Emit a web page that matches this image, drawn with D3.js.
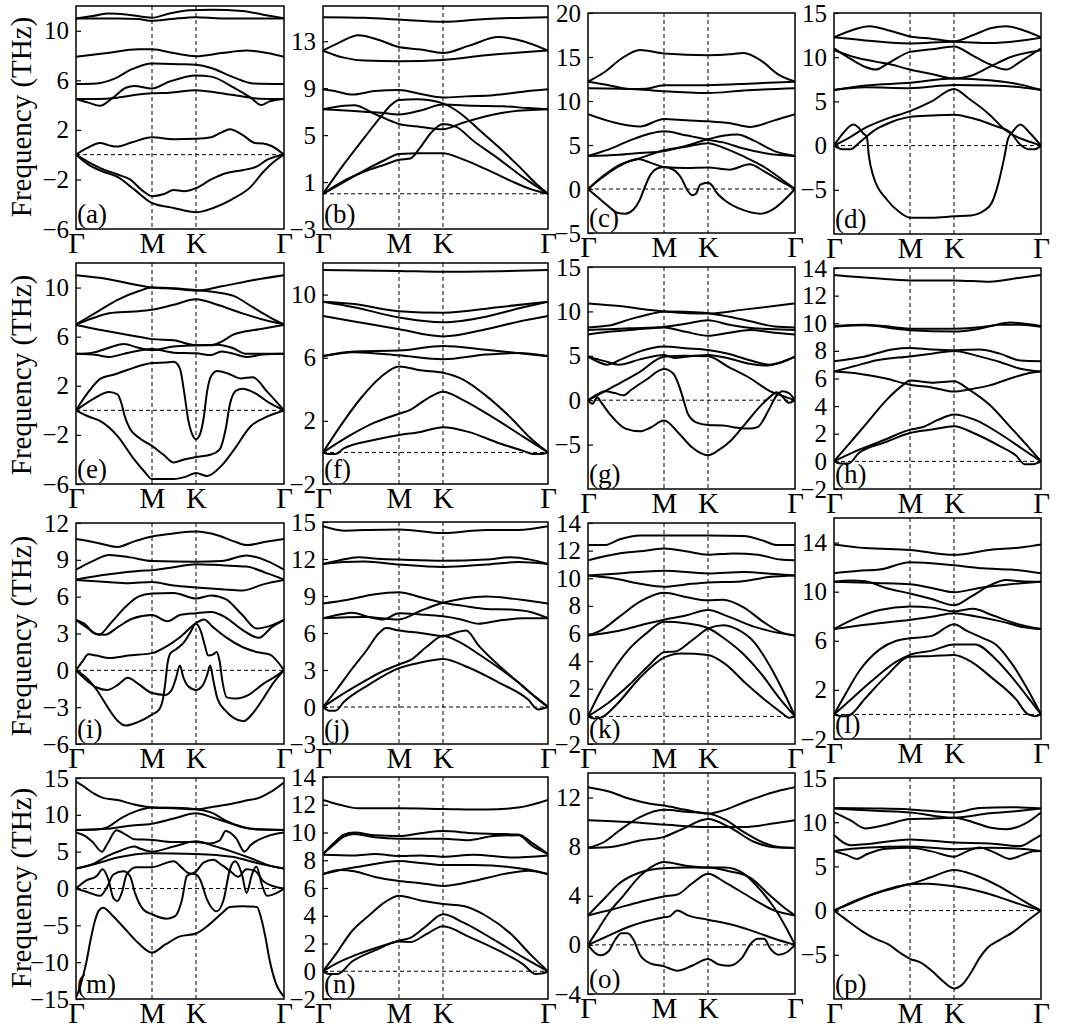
<!DOCTYPE html>
<html>
<head>
<meta charset="utf-8">
<script src="https://cdnjs.cloudflare.com/ajax/libs/d3/7.8.5/d3.min.js"></script>
<style>
  body { margin: 0; background: #fff; }
  svg { display: block; }
  text { font-family: 'Liberation Serif', 'Times New Roman', Times, serif; fill: #000; }
</style>
</head>
<body>
<div id="chart"></div>
<script>
// path stops: Γ, M, K, Γ (percent of path)
const kStops = [0, 36.6, 57.7, 100];
const xTickLabels = ['Γ', 'M', 'K', 'Γ'];
const panelNames = ['(a)','(b)','(c)','(d)','(e)','(f)','(g)','(h)','(i)','(j)','(k)','(l)','(m)','(n)','(o)','(p)'];
const yDomains = [[-6,12],[-3,16],[-5,20],[-10,15],[-6,12],[-2,12],[-10,15],[-2,14],
                  [-6,12],[-3,15],[-2,14],[-2,16],[-15,15],[-2,14],[-4,14],[-10,15]];
const yTickValues = [[-6,-2,2,6,10],[-3,1,5,9,13],[-5,0,5,10,15,20],[-5,0,5,10,15],
                     [-6,-2,2,6,10],[-2,2,6,10],[-5,0,5,10,15],[-2,0,2,4,6,8,10,12,14],
                     [-6,-3,0,3,6,9,12],[-3,0,3,6,9,12,15],[-2,0,2,4,6,8,10,12,14],[-2,2,6,10,14],
                     [-15,-10,-5,0,5,10,15],[-2,0,2,4,6,8,10,12,14],[-4,0,4,8,12],[-5,0,5,10,15]];

// bands: lists of [path position, frequency THz]
const bandsA = [
  [[0,11.0],[8,11.2],[16,11.4],[25,11.3],[36.6,11.05],[45,11.4],[55,11.65],[65,11.7],[80,11.6],[90,11.3],[100,11.0]],
  [[0,11.0],[20,11.0],[30,10.95],[36.6,10.8],[46,10.95],[57.7,11.1],[70,11.0],[100,11.0]],
  [[0,7.9],[15,8.2],[30,8.5],[36.6,8.5],[47,8.2],[57.7,7.95],[70,8.2],[82,8.4],[92,8.2],[100,7.9]],
  [[0,5.7],[10,5.75],[18,6.1],[27,6.9],[36.6,7.35],[50,7.3],[57.7,7.25],[65,7.0],[75,6.3],[85,5.75],[100,5.7]],
  [[0,4.5],[10,4.5],[20,4.6],[30,4.85],[36.6,4.95],[45,5.0],[57.7,5.2],[68,5.0],[80,4.7],[88,4.52],[100,4.5]],
  [[0,4.5],[6,4.2],[11.6,3.95],[17,4.5],[24,5.4],[28,5.55],[36.6,5.35],[45,5.9],[57.7,6.4],[65,6.3],[75,5.5],[84,4.6],[89,4.0],[93,4.3],[100,4.5]],
  [[0,0],[5,0.5],[11.6,0.95],[16,0.75],[19.6,0.65],[27,1.0],[36.6,1.4],[47,1.25],[57.7,1.28],[65,1.4],[70,1.8],[74,2.05],[80,1.6],[86,0.95],[90,0.9],[94,0.7],[100,0]],
  [[0,0],[6,-0.6],[12,-1.1],[20,-1.6],[26,-2.0],[32,-2.9],[36.6,-3.35],[42,-3.2],[47,-2.85],[52,-2.95],[57.7,-2.7],[65,-2.0],[72,-1.5],[80,-1.25],[87,-0.95],[92,-0.4],[100,0]],
  [[0,0],[6,-0.8],[12,-1.3],[20,-1.8],[28,-2.8],[36.6,-3.9],[47,-4.3],[57.7,-4.65],[66,-4.3],[75,-3.6],[84,-2.6],[90,-1.4],[95,-0.6],[100,0]]
];
const bandsB = [
  [[0,15.05],[20,15.0],[36.6,14.85],[57.7,14.65],[75,14.9],[100,15.05]],
  [[0,12.2],[8,12.9],[17,13.5],[27,13.1],[36.6,12.5],[47,12.3],[57.7,12.0],[68,12.6],[80,13.35],[90,13.0],[100,12.2]],
  [[0,12.2],[10,11.6],[20,11.35],[36.6,11.3],[57.7,11.4],[75,11.8],[100,12.2]],
  [[0,8.9],[7,8.7],[14,8.45],[25,8.75],[36.6,8.85],[47,8.5],[57.7,8.2],[67,8.3],[78,8.4],[90,8.7],[100,8.9]],
  [[0,7.2],[15,7.05],[28,6.9],[36.6,6.75],[47,7.1],[57.7,7.6],[70,7.5],[82,7.45],[92,7.3],[100,7.2]],
  [[0,7.2],[10,7.5],[15,7.55],[25,6.8],[36.6,5.95],[47,5.7],[57.7,5.5],[65,6.0],[75,6.6],[85,7.0],[100,7.2]],
  [[0,0],[10,2.5],[20,4.8],[28,6.6],[33,7.6],[36.6,8.0],[45,8.05],[57.7,7.7],[65,6.8],[72,5.5],[80,4.0],[88,2.4],[95,0.9],[100,0]],
  [[0,0],[10,1.1],[20,1.9],[30,2.5],[36.6,2.9],[42,3.0],[47,4.0],[52,5.2],[57.7,5.95],[63,5.7],[70,4.5],[80,3.0],[90,1.4],[100,0]],
  [[0,0],[10,1.0],[20,2.0],[30,2.9],[36.6,3.4],[47,3.45],[57.7,3.45],[65,3.0],[75,2.1],[85,1.1],[93,0.4],[100,0]]
];
const bandsC = [
  [[0,12.2],[8,13.3],[16,14.8],[25,15.8],[36.6,15.4],[57.7,15.2],[68,15.3],[75,15.45],[84,14.5],[92,13.0],[100,12.2]],
  [[0,12.2],[10,11.8],[20,11.35],[28,11.4],[36.6,11.8],[57.7,11.8],[80,12.0],[100,12.2]],
  [[0,11.45],[15,11.4],[25,11.3],[36.6,11.1],[57.7,10.9],[75,11.2],[100,11.45]],
  [[0,8.5],[12,7.6],[25,7.1],[36.6,7.95],[47,7.8],[57.7,7.7],[68,7.5],[78,7.05],[90,7.8],[100,8.5]],
  [[0,3.76],[10,4.5],[20,5.5],[30,6.3],[36.6,6.55],[47,6.1],[57.7,5.6],[65,5.3],[75,4.6],[87,4.0],[100,3.76]],
  [[0,3.76],[15,3.9],[25,4.1],[36.6,4.3],[47,4.9],[57.7,5.65],[65,6.05],[72,6.2],[80,5.5],[90,4.3],[100,3.76]],
  [[0,0],[8,1.6],[15,2.7],[25,3.5],[36.6,4.4],[47,4.8],[57.7,5.2],[65,4.7],[75,3.7],[85,2.5],[93,1.2],[100,0]],
  [[0,0],[8,1.5],[15,2.6],[24,3.4],[30,3.0],[36.6,2.5],[47,2.4],[57.7,2.45],[68,2.2],[78,2.8],[85,2.0],[93,0.9],[100,0]],
  [[0,0],[5,-1.0],[10,-2.0],[14,-2.7],[18,-2.8],[22,-2.3],[25,-1.2],[27,0],[30,1.6],[33,2.3],[36.6,2.5],[41,2.2],[45,1.2],[47.5,0],[50,-0.7],[52,-0.5],[54,0.5],[57.7,0.7],[60,0.3],[61.5,-0.3],[66,-1.3],[75,-2.4],[83,-2.8],[90,-2.2],[95,-1.2],[100,0]]
];
const bandsD = [
  [[0,12.25],[8,13.0],[17,13.5],[27,13.0],[36.6,12.35],[47,12.1],[57.7,11.8],[68,12.6],[76,13.3],[83,13.5],[92,13.0],[100,12.25]],
  [[0,12.25],[15,11.9],[36.6,11.55],[57.7,11.75],[75,11.6],[100,12.2]],
  [[0,11.0],[8,9.8],[15,8.9],[20,8.6],[26,9.3],[36.6,10.6],[47,10.9],[57.7,11.2],[66,10.3],[75,9.2],[83,8.6],[90,9.5],[100,11.0]],
  [[0,10.8],[10,10.0],[20,9.5],[27,9.2],[36.6,8.6],[47,8.1],[57.7,7.6],[66,7.9],[75,8.9],[85,10.0],[100,10.8]],
  [[0,6.3],[15,6.8],[36.6,7.1],[57.7,7.6],[75,7.4],[90,6.9],[100,6.3]],
  [[0,6.3],[15,6.6],[36.6,6.5],[57.7,6.85],[75,6.8],[90,6.6],[100,6.3]],
  [[0,0],[8,1.0],[15,2.0],[25,3.0],[36.6,3.9],[47,5.0],[57.7,6.4],[65,5.3],[75,3.5],[83,1.7],[90,0.8],[95,0.4],[100,0]],
  [[0,0],[4,-0.4],[8,-0.4],[12,0.3],[20,1.8],[28,2.7],[36.6,3.25],[47,3.4],[57.7,3.5],[68,3.0],[78,2.2],[85,1.5],[90,0.1],[94,-0.4],[97,-0.4],[100,0]],
  [[0,0],[4,1.3],[9.3,2.4],[12,2.0],[14,1.4],[15.8,1.0],[16.8,-1.2],[19,-3.5],[25.4,-6.1],[32,-7.6],[36.6,-8.15],[47,-8.15],[57.7,-8.0],[66,-7.9],[72,-7.4],[76,-6.5],[79,-4.5],[82,-1.5],[84,0.8],[86,1.5],[89.9,2.4],[94.7,1.4],[100,0]]
];
const bandsE = [
  [[0,11.0],[15,10.7],[28,10.25],[36.6,10.0],[47,9.9],[57.7,9.75],[70,10.1],[85,10.6],[100,11.0]],
  [[0,7.0],[10,8.0],[20,9.0],[30,9.7],[36.6,10.0],[47,9.95],[57.7,9.8],[68,9.6],[76,9.3],[85,8.4],[93,7.6],[100,7.0]],
  [[0,7.0],[8,7.5],[16,7.9],[28,8.05],[36.6,8.2],[47,8.6],[57.7,9.05],[68,8.6],[80,7.9],[92,7.3],[100,7.0]],
  [[0,6.95],[10,6.6],[20,6.3],[30,6.0],[36.6,5.8],[47,5.7],[57.7,5.3],[65,5.3],[70,5.6],[76,6.2],[88,6.6],[100,6.95]],
  [[0,4.6],[8,4.7],[16,5.1],[23,5.4],[30,5.1],[36.6,4.9],[47,5.2],[57.7,5.3],[68,5.35],[75,5.1],[82,4.6],[90,4.6],[100,4.6]],
  [[0,4.6],[10,4.5],[16,4.35],[23,4.6],[30,4.85],[36.6,5.0],[47,4.7],[57.7,4.65],[65,4.5],[70,4.8],[76,4.6],[82,4.35],[90,4.55],[100,4.6]],
  [[0,0],[6,1.5],[12,2.6],[18,2.9],[25,3.3],[32,3.7],[36.6,3.85],[43,3.9],[47,3.95],[50,3.4],[52,1.5],[54,-0.8],[56,-2.0],[57.7,-2.35],[59.5,-2.0],[61.5,-0.5],[63,1.5],[65,2.8],[68,3.2],[73,3.0],[79,2.6],[85,2.7],[92,1.5],[100,0]],
  [[0,0],[8,0.9],[16,1.5],[20,1.3],[22,0.5],[23.5,-0.5],[26,-1.5],[30,-2.2],[36.6,-2.9],[42,-3.6],[47,-4.25],[52,-4.0],[57.7,-3.8],[65,-3.6],[69,-3.2],[72,-1.5],[74,0.5],[77,1.6],[80,1.75],[86,1.4],[93,0.6],[100,0]],
  [[0,0],[6,-0.5],[12,-0.9],[20,-2.1],[28,-4.0],[33,-5.0],[36.6,-5.6],[47,-5.6],[53,-5.4],[57.7,-5.1],[63,-5.35],[70,-4.5],[76,-3.2],[84,-1.3],[92,-0.5],[100,0]]
];
const bandsF = [
  [[0,11.55],[36.6,11.5],[57.7,11.45],[100,11.55]],
  [[0,9.55],[15,9.4],[36.6,8.95],[57.7,8.85],[80,9.2],[100,9.55]],
  [[0,9.55],[15,9.2],[36.6,8.55],[57.7,8.25],[75,8.6],[90,9.2],[100,9.55]],
  [[0,8.65],[15,8.3],[36.6,7.8],[57.7,7.35],[75,7.8],[90,8.35],[100,8.65]],
  [[0,6.1],[15,6.4],[36.6,6.45],[57.7,6.75],[75,6.5],[100,6.1]],
  [[0,6.1],[15,6.35],[36.6,6.15],[57.7,5.9],[75,6.2],[88,6.3],[100,6.1]],
  [[0,0],[8,1.6],[18,3.4],[28,4.8],[36.6,5.45],[47,5.2],[57.7,5.05],[66,4.6],[75,3.6],[85,2.2],[93,0.9],[100,0]],
  [[0,0],[12,1.0],[25,1.9],[36.6,2.45],[42,2.7],[50,3.4],[57.7,3.85],[66,3.3],[78,2.2],[90,1.0],[100,0]],
  [[0,0],[3,-0.1],[6,-0.1],[10,0.25],[25,0.8],[36.6,1.1],[47,1.3],[57.7,1.6],[68,1.3],[80,0.6],[90,0.1],[94,-0.1],[97,-0.1],[100,0]]
];
const bandsG = [
  [[0,10.9],[15,10.6],[30,10.15],[36.6,10.0],[57.7,9.75],[75,10.2],[100,10.9]],
  [[0,8.2],[10,8.4],[20,9.1],[30,9.7],[36.6,10.0],[47,9.95],[57.7,9.8],[68,9.4],[80,8.8],[90,8.3],[100,8.2]],
  [[0,7.9],[10,8.0],[20,8.1],[36.6,8.25],[47,8.6],[57.7,9.0],[68,8.5],[80,8.1],[90,8.0],[100,7.9]],
  [[0,7.4],[10,7.7],[20,7.9],[36.6,8.2],[47,7.7],[57.7,7.25],[68,7.6],[78,7.9],[90,7.6],[100,7.4]],
  [[0,4.9],[5,4.3],[9,4.0],[16,4.6],[25,5.5],[36.6,6.05],[47,5.85],[57.7,5.65],[68,5.2],[78,4.5],[88,4.0],[94,4.3],[100,4.9]],
  [[0,4.9],[8,4.4],[15,4.0],[25,4.6],[36.6,5.1],[42,4.75],[47,4.9],[57.7,5.1],[68,4.7],[78,4.1],[86,3.9],[92,4.2],[100,4.9]],
  [[0,0],[8,1.0],[16,2.0],[25,3.2],[36.6,4.9],[47,5.0],[57.7,4.95],[68,3.7],[78,2.5],[88,1.0],[95,0.4],[100,0]],
  [[0,0],[4,0.6],[8,1.0],[13,0.8],[17,0.55],[21,1.2],[28,2.3],[36.6,3.5],[41,3.0],[44,1.5],[46,0],[48,-1.5],[52,-2.5],[57.7,-2.8],[65,-2.85],[72,-3.1],[78,-3.2],[82,-3.0],[87,-1.2],[91,0.5],[94,1.0],[97,0.8],[100,0]],
  [[0,0],[2,-0.4],[4.5,0.3],[6.5,-0.3],[11,-1.7],[18,-3.2],[25,-3.5],[30,-3.1],[36.6,-2.3],[44,-3.8],[50,-5.3],[57.7,-6.2],[63,-5.6],[69,-4.5],[76,-2.6],[83,-0.7],[88,0.4],[91,0.9],[94,0.4],[97,-0.3],[100,0]]
];
const bandsH = [
  [[0,13.5],[20,13.25],[36.6,13.1],[57.7,13.1],[75,13.0],[90,13.3],[100,13.5]],
  [[0,9.8],[15,9.9],[30,9.7],[36.6,9.6],[57.7,9.6],[75,9.8],[85,10.05],[100,9.8]],
  [[0,9.75],[15,9.85],[30,9.6],[36.6,9.5],[57.7,9.4],[70,9.6],[80,9.9],[90,9.9],[100,9.75]],
  [[0,7.25],[15,7.6],[28,8.1],[36.6,8.2],[47,8.1],[57.7,8.05],[70,8.1],[80,7.8],[90,7.3],[100,7.25]],
  [[0,6.5],[10,6.9],[20,7.3],[36.6,7.6],[47,7.8],[57.7,8.0],[70,7.6],[80,7.2],[90,6.7],[100,6.5]],
  [[0,6.5],[12,6.35],[25,6.0],[36.6,5.55],[47,5.35],[57.7,5.05],[65,5.2],[75,5.5],[85,6.0],[93,6.35],[100,6.5]],
  [[0,0],[8,1.4],[16,2.8],[25,4.4],[33,5.5],[36.6,5.85],[47,5.7],[57.7,5.8],[65,5.2],[75,4.1],[85,2.5],[93,1.2],[100,0]],
  [[0,0],[10,0.7],[25,1.6],[36.6,2.3],[42,2.45],[50,3.0],[57.7,3.4],[68,3.0],[80,2.0],[90,1.0],[100,0]],
  [[0,0],[3,-0.15],[7,-0.15],[12,0.6],[25,1.4],[36.6,2.05],[47,2.3],[57.7,2.55],[68,2.0],[80,1.1],[88,0.4],[92,-0.2],[96,-0.2],[100,0]]
];
const bandsI = [
  [[0,10.7],[10,10.4],[20,10.05],[28,10.5],[36.6,10.9],[47,11.15],[57.7,11.3],[68,11.0],[76,10.5],[82,10.2],[92,10.5],[100,10.7]],
  [[0,8.2],[8,8.9],[16,9.4],[26,9.2],[36.6,8.9],[57.7,8.85],[70,8.9],[82,9.35],[92,8.9],[100,8.2]],
  [[0,7.4],[15,7.8],[30,8.1],[36.6,8.15],[47,8.4],[57.7,8.65],[70,8.55],[82,8.45],[92,7.9],[100,7.4]],
  [[0,7.35],[15,7.2],[25,7.1],[36.6,7.2],[47,6.9],[57.7,6.75],[70,6.6],[80,6.5],[90,7.0],[100,7.35]],
  [[0,4.1],[6,3.4],[11,2.9],[17,3.9],[24,5.2],[30,6.0],[36.6,6.25],[47,6.3],[57.7,5.85],[65,6.1],[72,5.8],[80,4.5],[87,3.4],[93,3.6],[100,4.1]],
  [[0,4.1],[4,3.8],[9,3.0],[14,2.9],[20,3.5],[27,4.2],[36.6,4.5],[44,4.0],[50,4.5],[57.7,4.65],[65,4.75],[72,4.3],[80,3.3],[88,2.65],[94,3.5],[100,4.1]],
  [[0,0],[3,0.7],[6,1.3],[10,1.2],[16,1.0],[25,1.2],[36.6,1.4],[44,2.0],[50,2.7],[57.7,3.85],[61.5,4.15],[66,3.5],[72,2.7],[80,1.9],[88,1.45],[93,1.3],[100,0]],
  [[0,0],[5,-0.6],[10,-1.6],[16,-3.2],[20,-4.1],[24,-4.5],[30,-4.2],[36.6,-3.6],[40,-3.2],[42,-2.2],[43,-1.0],[44,0.5],[45.5,1.4],[48,1.7],[52,2.3],[55,3.1],[57.7,3.8],[60,3.2],[62,2.0],[63.5,1.2],[66,1.3],[67.5,1.5],[69,0.8],[70.5,-1.0],[72.5,-2.2],[77,-2.3],[83,-2.0],[90,-1.1],[95,-0.6],[100,0]],
  [[0,0],[5,-0.8],[10,-1.4],[15,-1.6],[20,-1.2],[25,-0.6],[30,-1.1],[36.6,-1.85],[43,-2.0],[46,-1.6],[48,-0.7],[50,0.4],[51.5,-0.5],[54,-1.3],[57.7,-1.6],[61,-1.2],[63,-0.4],[64.5,0.4],[66,-0.8],[68,-2.3],[72,-3.3],[76,-3.9],[80.5,-4.15],[85,-3.5],[90,-2.3],[95,-1.0],[100,0]]
];
const bandsJ = [
  [[0,14.65],[10,14.3],[20,14.35],[36.6,14.4],[57.7,14.1],[75,14.35],[88,14.35],[100,14.65]],
  [[0,11.6],[8,11.9],[17,12.15],[28,12.0],[36.6,11.95],[57.7,11.85],[75,11.95],[85,12.15],[93,11.95],[100,11.6]],
  [[0,11.6],[10,11.75],[20,11.8],[36.6,11.55],[57.7,11.35],[75,11.55],[88,11.75],[100,11.6]],
  [[0,8.4],[12,8.7],[25,9.15],[36.6,9.3],[47,8.9],[57.7,8.45],[66,8.2],[75,7.95],[85,7.9],[93,7.7],[100,7.2]],
  [[0,7.2],[20,7.3],[36.6,7.1],[47,7.8],[57.7,8.45],[66,8.8],[75,8.95],[85,8.8],[93,8.6],[100,8.4]],
  [[0,7.2],[8,7.5],[14,7.65],[22,7.3],[29,7.1],[36.6,7.6],[47,7.5],[57.7,7.35],[65,7.1],[72,6.75],[80,7.0],[90,7.2],[100,7.2]],
  [[0,0],[7,1.5],[14,3.1],[21,4.6],[27,6.0],[30.5,6.4],[36.6,6.2],[47,6.0],[57.7,5.75],[64,6.1],[67,6.2],[72,5.0],[80,3.4],[88,2.0],[95,0.8],[100,0]],
  [[0,0],[10,1.1],[20,2.1],[30,3.0],[36.6,3.45],[42,3.8],[50,4.9],[57.7,5.75],[64,5.3],[72,4.3],[80,3.2],[88,2.0],[95,0.8],[100,0]],
  [[0,0],[3,-0.3],[6,-0.3],[10,0.4],[22,1.8],[36.6,3.15],[47,3.6],[57.7,3.9],[68,3.2],[80,2.0],[92,0.6],[96,-0.2],[100,0]]
];
const bandsK = [
  [[0,12.4],[8,12.4],[15,12.8],[25,13.1],[36.6,13.1],[57.7,13.1],[75,13.05],[85,12.7],[91,12.4],[100,12.4]],
  [[0,11.3],[8,11.6],[15,11.8],[25,11.95],[36.6,12.15],[47,11.95],[57.7,11.7],[70,11.8],[82,11.7],[93,11.35],[100,11.3]],
  [[0,10.2],[15,10.35],[36.6,10.55],[57.7,10.35],[75,10.45],[90,10.3],[100,10.2]],
  [[0,10.2],[12,10.0],[25,9.6],[36.6,9.38],[47,9.55],[57.7,9.7],[72,9.75],[88,10.1],[100,10.2]],
  [[0,5.85],[6,6.2],[15,7.2],[25,8.3],[36.6,8.95],[47,8.65],[57.7,8.4],[65,8.45],[75,7.9],[85,6.8],[93,6.1],[100,5.85]],
  [[0,5.85],[15,6.2],[28,6.7],[36.6,7.0],[47,7.3],[57.7,7.7],[68,7.2],[80,6.5],[90,6.1],[100,5.85]],
  [[0,0],[6,1.8],[12,3.3],[20,4.9],[28,6.0],[36.6,6.85],[47,6.75],[57.7,6.4],[66,5.6],[75,4.5],[84,3.0],[92,1.4],[100,0]],
  [[0,0],[10,1.0],[20,2.3],[30,3.8],[36.6,4.65],[42,4.7],[50,5.5],[57.7,6.35],[65,6.6],[72,6.3],[80,5.4],[88,3.6],[95,1.6],[100,0]],
  [[0,0],[3,-0.15],[6,-0.1],[14,0.9],[25,2.8],[36.6,4.25],[45,4.55],[57.7,4.45],[66,3.8],[76,2.4],[87,1.0],[94,0.2],[97,-0.1],[100,0]]
];
const bandsL = [
  [[0,13.85],[15,13.55],[36.6,13.4],[57.7,13.0],[75,13.4],[90,13.6],[100,13.85]],
  [[0,11.5],[12,11.7],[22,11.8],[36.6,12.4],[57.7,12.15],[72,11.9],[85,11.8],[100,11.5]],
  [[0,10.8],[8,10.9],[15,10.85],[25,10.3],[36.6,9.85],[47,9.4],[57.7,8.9],[66,9.6],[75,10.5],[83,10.95],[90,10.85],[100,10.8]],
  [[0,10.8],[20,10.7],[36.6,10.6],[47,10.3],[57.7,9.95],[70,10.3],[85,10.6],[100,10.8]],
  [[0,6.95],[10,7.8],[22,8.5],[36.6,8.8],[47,8.7],[57.7,8.4],[67,8.6],[76,8.1],[88,7.4],[100,6.95]],
  [[0,6.95],[15,7.3],[28,7.55],[36.6,7.7],[47,7.95],[57.7,8.25],[68,8.0],[80,7.6],[92,7.1],[100,6.95]],
  [[0,0],[5,1.5],[12,3.5],[22,5.3],[30,6.0],[36.6,6.2],[47,6.4],[57.7,7.35],[64,6.8],[72,6.2],[78,5.7],[86,4.1],[93,2.2],[100,0]],
  [[0,0],[8,1.2],[18,2.7],[30,4.3],[36.6,4.85],[47,5.2],[57.7,5.7],[68,5.7],[78,4.5],[88,2.6],[95,1.1],[100,0]],
  [[0,0],[4,-0.15],[7,-0.1],[15,1.3],[25,3.1],[36.6,4.7],[47,4.75],[57.7,4.85],[66,4.3],[76,3.0],[88,1.2],[93,0.1],[97,-0.15],[100,0]]
];
const bandsM = [
  [[0,14.5],[5,13.6],[8.5,12.9],[13,12.3],[20,12.0],[28,11.4],[36.6,11.0],[47,10.9],[57.7,10.75],[66,11.1],[75,11.5],[83,12.0],[88,12.3],[93,13.0],[100,14.4]],
  [[0,7.95],[10,8.0],[15,8.3],[22,9.6],[29,10.5],[36.6,11.0],[47,10.95],[57.7,10.75],[66,10.2],[72,9.2],[80,8.3],[88,8.0],[100,7.95]],
  [[0,7.95],[15,8.1],[25,8.5],[36.6,8.8],[47,9.5],[57.7,10.2],[66,9.6],[75,8.8],[85,8.1],[100,7.95]],
  [[0,7.6],[5,7.0],[8,6.3],[12.5,5.0],[15,6.0],[19.5,7.9],[24,7.3],[28,6.7],[36.6,6.6],[47,6.3],[57.7,6.3],[64,6.1],[69,6.5],[72,7.8],[77,6.8],[81,5.0],[84,5.9],[92,7.1],[100,7.6]],
  [[0,2.7],[8,3.3],[15,4.4],[22,5.2],[28,5.7],[31,5.4],[36.6,5.0],[47,5.7],[57.7,6.4],[66,5.8],[75,5.0],[85,4.0],[93,3.1],[100,2.7]],
  [[0,2.7],[10,3.4],[20,4.2],[36.6,4.8],[57.7,4.7],[75,4.3],[88,3.4],[100,2.7]],
  [[0,0],[5,1.1],[10,1.7],[12.8,2.6],[15.6,1.2],[18,-1.3],[20,-1.7],[22,-0.6],[24.4,1.9],[29,2.9],[36.6,2.9],[47,3.7],[51,2.8],[54,2.1],[57.7,1.9],[59.7,1.2],[63,-1.5],[67.7,-3.1],[71,-1.5],[74,2.6],[76.5,3.7],[79.8,1.9],[82,-0.6],[84.6,1.9],[86.7,3.0],[89.4,0.5],[91.8,-1.0],[96.6,-0.6],[100,0]],
  [[0,0],[6.7,-0.6],[11.6,-1.0],[14.8,0.1],[18,1.9],[22.8,2.35],[26,1.7],[28.4,-0.6],[32.4,-2.85],[36.6,-3.5],[43.7,-4.1],[47.7,-3.75],[51,-1.5],[53.3,1.7],[57.7,2.3],[61.3,3.5],[66,3.9],[70,3.2],[74,2.4],[78,1.6],[82,2.6],[86,2.4],[90,1.0],[95,0.3],[100,0]],
  [[0,-14.8],[2,-13.3],[5,-10],[7,-7.0],[9,-4.5],[11,-3.0],[13,-2.6],[18,-3.8],[24,-5.6],[30,-7.4],[36.6,-8.7],[43,-7.6],[50,-6.5],[57.7,-6.1],[64,-4.9],[70,-3.4],[74,-2.5],[80,-2.4],[87,-2.5],[89,-4.0],[91,-6.5],[93,-9.6],[96,-12.8],[100,-14.7]]
];
const bandsN = [
  [[0,12.35],[8,12.0],[17,11.75],[36.6,11.75],[57.7,11.7],[75,11.65],[88,11.8],[100,12.35]],
  [[0,8.45],[5,9.2],[10,9.85],[15,10.0],[25,9.8],[36.6,9.75],[47,9.95],[57.7,10.1],[70,9.95],[80,9.9],[88,9.85],[94,9.2],[100,8.45]],
  [[0,8.45],[5,9.1],[10,9.7],[15,9.9],[25,9.65],[36.6,9.55],[47,9.55],[57.7,9.55],[68,9.45],[78,9.75],[88,9.8],[94,9.0],[100,8.45]],
  [[0,8.4],[15,8.35],[25,8.45],[36.6,8.3],[47,8.35],[57.7,8.25],[70,8.4],[85,8.2],[100,8.35]],
  [[0,7.0],[10,7.35],[20,7.6],[36.6,7.95],[47,7.8],[57.7,7.65],[70,7.65],[85,7.5],[93,7.3],[100,7.0]],
  [[0,7.0],[8,7.3],[15,7.2],[25,6.8],[36.6,6.5],[47,6.35],[57.7,6.15],[70,6.5],[82,7.0],[92,7.25],[100,7.0]],
  [[0,0],[6,1.2],[14,2.9],[22,4.0],[30,5.0],[36.6,5.45],[47,5.1],[57.7,4.85],[66,4.7],[75,4.0],[85,2.7],[93,1.2],[100,0]],
  [[0,0],[7,0.6],[18,1.3],[30,1.9],[36.6,2.2],[42,2.4],[50,3.3],[57.7,4.1],[66,3.5],[78,2.3],[90,1.0],[100,0]],
  [[0,0],[3,-0.2],[7,-0.2],[14,0.7],[25,1.5],[36.6,2.15],[42,2.1],[50,2.7],[57.7,3.25],[68,2.5],[80,1.5],[90,0.5],[95,-0.2],[98,-0.15],[100,0]]
];
const bandsO = [
  [[0,12.85],[10,12.5],[20,11.9],[30,11.5],[36.6,11.35],[47,11.0],[57.7,10.7],[66,11.0],[75,11.6],[85,12.2],[93,12.6],[100,12.85]],
  [[0,7.9],[8,8.4],[15,9.3],[25,10.4],[36.6,11.0],[47,10.85],[57.7,10.7],[66,10.2],[75,9.2],[85,8.3],[93,7.95],[100,7.9]],
  [[0,10.15],[20,10.0],[36.6,9.8],[57.7,9.6],[75,9.6],[90,9.9],[100,10.15]],
  [[0,7.9],[12,8.0],[25,8.5],[36.6,8.8],[45,9.4],[57.7,10.25],[68,9.6],[80,8.4],[90,7.95],[100,7.9]],
  [[0,2.4],[8,3.8],[15,5.0],[25,5.9],[36.6,6.25],[47,6.3],[57.7,6.3],[68,6.0],[78,5.5],[88,4.0],[95,3.0],[100,2.4]],
  [[0,2.4],[12,2.9],[25,3.5],[36.6,3.95],[43,4.1],[50,5.0],[57.7,5.8],[66,5.1],[78,3.9],[90,2.8],[100,2.4]],
  [[0,0],[5,1.3],[10,2.6],[17,4.0],[25,5.6],[31,6.4],[36.6,6.75],[47,6.45],[57.7,6.3],[66,6.3],[75,5.8],[83,4.5],[90,3.0],[95,1.6],[100,0]],
  [[0,0],[8,0.6],[20,1.5],[30,2.0],[36.6,2.25],[39,2.3],[43,2.8],[48,2.4],[57.7,2.05],[68,1.7],[80,1.1],[90,0.5],[100,0]],
  [[0,0],[3,-0.6],[6,-0.85],[10,-0.5],[13,0.4],[16,0.95],[19,0.95],[22,0.4],[25,-0.8],[30,-1.5],[36.6,-1.75],[43,-2.1],[50,-1.7],[57.7,-1.15],[63,-1.6],[68,-1.7],[74,-1.1],[79,0.2],[82,0.5],[85,0.5],[88,-0.3],[92,-0.8],[96,-0.6],[100,0]]
];
const bandsP = [
  [[0,11.6],[20,11.55],[36.6,11.45],[57.7,11.1],[70,11.6],[85,11.7],[100,11.55]],
  [[0,11.55],[20,11.3],[36.6,11.1],[57.7,10.5],[75,11.0],[90,11.3],[100,11.55]],
  [[0,11.1],[8,10.2],[15,9.3],[25,9.7],[36.6,10.35],[47,10.4],[57.7,10.5],[67,10.0],[75,9.4],[83,9.2],[92,9.8],[100,11.1]],
  [[0,8.55],[8,7.4],[15,7.5],[36.6,8.05],[57.7,7.7],[75,7.6],[90,7.3],[96,8.0],[100,8.55]],
  [[0,6.75],[15,7.1],[36.6,7.25],[57.7,6.95],[75,7.1],[90,7.0],[100,6.75]],
  [[0,6.75],[6,6.3],[11,5.85],[16,6.4],[25,7.0],[36.6,7.1],[47,6.7],[57.7,6.1],[64,6.7],[70,7.15],[78,6.5],[85,5.85],[91,6.3],[96,6.7],[100,6.75]],
  [[0,0],[8,0.9],[18,1.8],[30,2.7],[36.6,3.0],[47,3.8],[57.7,4.6],[68,4.0],[80,2.7],[90,1.3],[96,0.5],[100,0]],
  [[0,0],[8,0.8],[18,1.8],[30,2.6],[36.6,3.0],[45,3.05],[57.7,2.75],[68,2.3],[80,1.5],[90,0.7],[100,0]],
  [[0,0],[4,-0.7],[8,-1.4],[14,-2.4],[20,-3.2],[26,-3.8],[32,-4.8],[36.6,-5.45],[42,-5.9],[47,-6.8],[52,-7.9],[57.7,-8.8],[62,-8.3],[66,-7.0],[70,-5.4],[74,-4.2],[80,-3.3],[86,-2.5],[92,-1.4],[100,0]]
];
const allBands = [bandsA, bandsB, bandsC, bandsD, bandsE, bandsF, bandsG, bandsH,
                  bandsI, bandsJ, bandsK, bandsL, bandsM, bandsN, bandsO, bandsP];

// layout
const W = 1071, H = 1032;
const colLeft = [76, 323, 588, 834];
const colWidth = [208, 225, 207, 207];
const panelTop = [6, 6, 13, 13, 263, 263, 267, 268, 523, 522, 523, 518, 778, 777, 773, 778];
const panelBottom = [229, 229, 233, 234, 484, 484, 489, 489, 744, 744, 744, 739, 999, 999, 994, 999];
const rowLabelY = [117, 375, 636, 888];
const FONT = "'Liberation Serif', 'Times New Roman', Times, serif";

const svg = d3.select('#chart').append('svg')
  .attr('width', W).attr('height', H)
  .attr('font-family', FONT);
svg.append('rect').attr('width', W).attr('height', H).attr('fill', '#fff');

const defs = svg.append('defs');

allBands.forEach(function (bands, i) {
  const col = i % 4;
  const L = colLeft[col], R = L + colWidth[col];
  const top = panelTop[i], bottom = panelBottom[i];

  const x = d3.scaleLinear().domain(kStops).range([L, L + 76, L + 120, R]);
  const y = d3.scaleLinear().domain(yDomains[i]).range([bottom, top]);

  const g = svg.append('g').attr('class', 'panel');

  defs.append('clipPath').attr('id', 'clip' + i)
    .append('rect').attr('x', L).attr('y', top).attr('width', R - L).attr('height', bottom - top);

  // dashed guides at M, K and zero
  g.selectAll('line.vguide').data(kStops.slice(1, 3)).enter().append('line')
    .attr('x1', d => x(d)).attr('x2', d => x(d))
    .attr('y1', top).attr('y2', bottom)
    .attr('stroke', '#000').attr('stroke-width', 1).attr('stroke-dasharray', '4,3');
  g.append('line')
    .attr('x1', L).attr('x2', R).attr('y1', y(0)).attr('y2', y(0))
    .attr('stroke', '#000').attr('stroke-width', 1).attr('stroke-dasharray', '4,3');

  // bands
  const line = d3.line().x(d => x(d[0])).y(d => y(d[1])).curve(d3.curveMonotoneX);
  g.append('g').attr('clip-path', 'url(#clip' + i + ')')
    .selectAll('path').data(bands).enter().append('path')
    .attr('d', line)
    .attr('fill', 'none').attr('stroke', '#000').attr('stroke-width', 2)
    .attr('stroke-linejoin', 'round');

  // frame
  g.append('rect').attr('x', L).attr('y', top).attr('width', R - L).attr('height', bottom - top)
    .attr('fill', 'none').attr('stroke', '#000').attr('stroke-width', 1.5);

  // y axis
  const yAxis = g.append('g').attr('transform', 'translate(' + L + ',0)')
    .call(d3.axisLeft(y).tickValues(yTickValues[i]).tickSize(-5).tickPadding(7));
  yAxis.attr('font-family', FONT).attr('font-size', 25);
  yAxis.select('.domain').remove();
  yAxis.selectAll('.tick line').attr('stroke', '#000').attr('stroke-width', 1.2);

  // x axis
  const xAxis = g.append('g').attr('transform', 'translate(0,' + bottom + ')')
    .call(d3.axisBottom(x).tickValues(kStops).tickFormat((d, j) => xTickLabels[j]).tickSize(0).tickPadding(3));
  xAxis.attr('font-family', FONT).attr('font-size', 29);
  xAxis.select('.domain').remove();

  // panel label
  g.append('text').attr('x', L + 1).attr('y', bottom - 6)
    .attr('font-family', FONT).attr('font-size', 27)
    .text(panelNames[i]);
});

// y titles
svg.selectAll('text.ytitle').data(rowLabelY).enter().append('text')
  .attr('class', 'ytitle')
  .attr('transform', d => 'translate(31,' + d + ') rotate(-90)')
  .attr('text-anchor', 'middle')
  .attr('font-family', FONT).attr('font-size', 29)
  .text('Frequency (THz)');
</script>
</body>
</html>
